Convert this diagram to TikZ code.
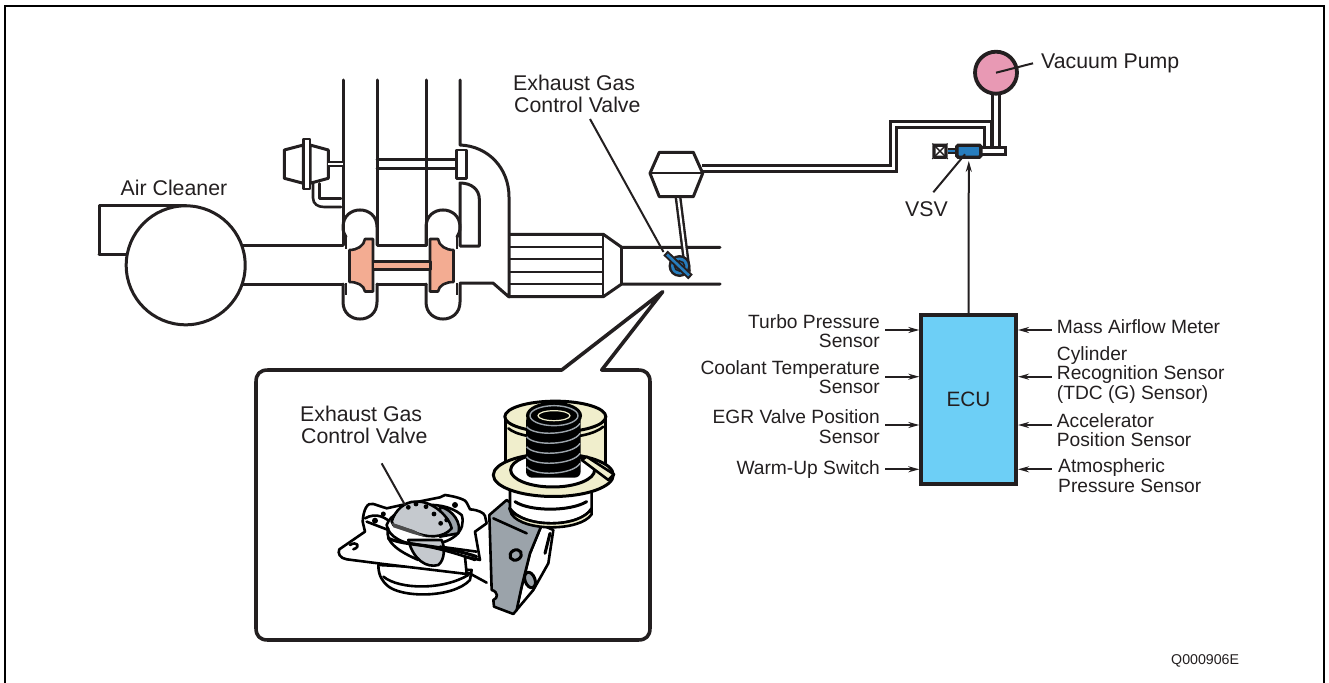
\documentclass[tikz,border=0pt]{standalone}
\usepackage{fontspec}
\setmainfont{Liberation Sans}
\usepackage{tikz}
\usetikzlibrary{arrows.meta, positioning, calc}
\definecolor{inkblack}{RGB}{35,31,32}
\definecolor{ecublue}{RGB}{109,207,246}
\definecolor{valveblue}{RGB}{39,125,190}
\definecolor{pumppink}{RGB}{232,153,180}
\definecolor{impsalmon}{RGB}{243,172,146}
\definecolor{capcream}{RGB}{240,238,204}
\definecolor{brkgrey}{RGB}{155,163,170}
\definecolor{discgrey}{RGB}{197,201,206}
\tikzset{
  duct/.style={draw=inkblack, line width=3pt, line cap=round, line join=round},
  thinduct/.style={draw=inkblack, line width=1.9pt},
  tube/.style={draw=inkblack, line width=2.9pt, double=white, double distance=3.4pt, line join=miter},
  arr/.style={-{Stealth[length=11pt, width=6pt]}, draw=inkblack, line width=2pt},
  leader/.style={draw=inkblack, line width=2pt},
  biglab/.style={font=\fontsize{21.3}{22}\selectfont, text=inkblack, inner sep=0pt, align=left},
  senlab/.style={font=\fontsize{19.2}{19.4}\selectfont, text=inkblack, inner sep=0pt},
  ecublock/.style={rectangle, draw=inkblack, fill=ecublue, line width=3.4pt,
    minimum width=95pt, minimum height=169pt, font=\fontsize{20.8}{22}\selectfont, text=inkblack},
  illu/.style={draw=black, line width=2.6pt, line join=round, line cap=round},
}
\begin{document}
\begin{tikzpicture}[x=1pt, y=-1pt]
  \useasboundingbox (0,0) rectangle (1329,682);
  % frame
  \draw[draw=black, line width=2pt] (5,683) -- (5,6) -- (1324,6) -- (1324,683);

  % intake side
  \draw[duct] (99,254) -- (99,205) -- (186,205);
  \draw[duct] (99,254) -- (128,254);
  \draw[duct, fill=white] (185.7,265.3) circle (59.5pt);
  \draw[duct] (243,245) -- (343,245);
  \draw[duct] (243,284) -- (343,284);
  \draw[duct] (343,80) -- (343,245);
  \draw[duct] (377,80) -- (377,245) -- (426,245) -- (426,80);
  \draw[duct] (377,284) -- (426,284);
  \draw[duct] (460,80) -- (460,145) .. controls (488,146) and (509,168) .. (509,197) -- (509,297) -- (493,283) -- (460,283);
  \draw[duct] (460,246) -- (460,183) .. controls (472,183) and (479.3,190) .. (479.3,199) -- (479.3,246) -- (460,246);

  % turbo
  \foreach \cx/\sd in {360/1,443/-1}{
    \draw[duct] ({\cx+\sd*17},245) -- ({\cx+\sd*17},227)
      .. controls ({\cx+\sd*17},204.3) and ({\cx-\sd*17},204.3) .. ({\cx-\sd*17},227)
      .. controls ({\cx-\sd*17},231) and ({\cx-\sd*16},234) .. ({\cx-\sd*14},237);
    \draw[duct] ({\cx-\sd*17},284) -- ({\cx-\sd*17},302)
      .. controls ({\cx-\sd*17},324.7) and ({\cx+\sd*17},324.7) .. ({\cx+\sd*17},302) -- ({\cx+\sd*17},284);
    \draw[thinduct] ({\cx-\sd*14},237) -- ({\cx-\sd*14},249);
    \draw[thinduct] ({\cx-\sd*14},283) -- ({\cx-\sd*14},295);
    \filldraw[duct, fill=impsalmon, line width=2.6pt] ({\cx-\sd*10.5},250)
      .. controls ({\cx-\sd*3},250) and ({\cx+\sd*4},246) .. ({\cx+\sd*5},239)
      -- ({\cx+\sd*13},239) -- ({\cx+\sd*13},291.5) -- ({\cx+\sd*5},291.5)
      .. controls ({\cx+\sd*4},285) and ({\cx-\sd*3},282) .. ({\cx-\sd*10.5},282) -- cycle;
  }
  \filldraw[duct, fill=impsalmon, line width=2.6pt] (373,261.5) rectangle (430.5,269.3);

  % small actuator
  \draw[duct, fill=white] (284.3,150) -- (303.3,145) -- (303.3,183.3) -- (284.3,178.3) -- cycle;
  \draw[duct, fill=white] (310,145) -- (328.3,150) -- (328.3,178.3) -- (310,183.3) -- cycle;
  \draw[duct, fill=white, line width=2.6pt] (303.5,139) rectangle (310,189);
  \draw[tube, line width=2.4pt, double distance=2pt] (328.3,164) -- (343,164);
  \draw[duct, line width=2.6pt] (313,183.5) -- (313,198) .. controls (313,204) and (318,207) .. (324,207) -- (341,207);
  \draw[duct, line width=2.6pt] (319.7,183.5) -- (319.7,198.5) -- (341,198.5);
  \draw[duct, line width=2.6pt] (377,159.3) -- (456.7,159.3);
  \draw[duct, line width=2.6pt] (377,168.3) -- (456.7,168.3);
  \draw[duct, fill=white, line width=2.6pt] (456.3,150) rectangle (466.7,178.3);

  % catalyst
  \draw[duct] (510,234.3) -- (603.3,234.3) -- (621.7,247.3) -- (720,247.3);
  \draw[duct] (510,296.7) -- (603.3,296.7) -- (621.7,284) -- (720,284);
  \draw[thinduct] (603.3,234.3) -- (603.3,296.7);
  \draw[duct] (621.7,247.3) -- (621.7,284);
  \foreach \ly in {247.3,259.3,271.7,284.3}
    \draw[thinduct] (510,\ly) -- (603.3,\ly);

  % exhaust gas control valve and its actuator
  \draw[tube, line width=2.4pt, double distance=2pt] (678,197) -- (687.5,272);
  \fill[inkblack] (679.5,266) circle (11pt);
  \fill[valveblue] (679.5,266) circle (8.5pt);
  \draw[draw=inkblack, line width=1.6pt] (679.5,266) circle (5pt);
  \draw[draw=inkblack, line width=6.5pt] (665.5,253) -- (690.5,277);
  \draw[draw=valveblue, line width=2.6pt] (667,254.5) -- (689,275.5);
  \draw[tube] (702,168.5) -- (893.3,168.5) -- (893.3,124.3) -- (988,124.3) -- (988,148);
  \draw[duct, fill=white] (659.3,152.3) -- (693.3,152.3) -- (702.7,173.3) -- (693.3,196.7) -- (659.3,196.7) -- (650,173.3) -- cycle;
  \draw[thinduct] (650,173.3) -- (702.7,173.3);

  % vacuum side
  \draw[tube] (996,90) -- (996,148);
  \node[circle, draw=inkblack, fill=pumppink, line width=3.8pt, minimum size=42pt, inner sep=0pt] (pump) at (996,72.7) {};
  \node[rectangle, draw=inkblack, fill=white, line width=3pt, minimum width=25pt, minimum height=7pt, inner sep=0pt] (vent) at (993,151) {};
  \node[rectangle, draw=inkblack, fill=valveblue, line width=3.4pt, rounded corners=1.5pt, minimum width=24pt, minimum height=12pt, inner sep=0pt] (vsv) at (968.8,151.2) {};
  \node[rectangle, draw=inkblack, fill=white, line width=3.4pt, rounded corners=1pt, minimum width=12pt, minimum height=12pt, inner sep=0pt] (xbox) at (940,151.2) {};
  \draw[draw=inkblack, line width=1.4pt] (xbox.south west) -- (xbox.north east) (xbox.north west) -- (xbox.south east);
  \draw[draw=inkblack, line width=5.5pt] (xbox.east) -- (vsv.west);
  \draw[draw=valveblue, line width=2.4pt] (xbox.east) -- (vsv.west);

  % labels top
  \node[biglab, anchor=base west] (cleanerlab) at (120.5,195) {Air Cleaner};
  \node[biglab, anchor=base west] (valvelab) at (513,91) {Exhaust Gas};
  \node[biglab, anchor=base west] (valvelabb) at (514,113) {Control Valve};
  \node[biglab, anchor=base west] (pumplab) at (1041,69) {Vacuum Pump};
  \node[biglab, anchor=base west] (vsvlab) at (905,216) {VSV};
  \coordinate (valvetip) at (663.5,252);
  \draw[leader] (590,119) -- (valvetip);
  \draw[leader] (pump.center) -- (1033,63.3);
  \draw[leader] (965,154.3) -- (933.3,192.3);

  % ecu
  \node[ecublock] (ecu) at (968.5,399.6) {ECU};
  \draw[arr, shorten >=2pt] (ecu.north) -- (vsv.south);
  \node[senlab, anchor=east, align=right] (turbosen) at (880,331) {Turbo Pressure\\Sensor};
  \node[senlab, anchor=east, align=right] (coolsen) at (880,377) {Coolant Temperature\\Sensor};
  \node[senlab, anchor=east, align=right] (egrsen) at (880,426.5) {EGR Valve Position\\Sensor};
  \node[senlab, anchor=east, align=right] (warmsw) at (880,470) {Warm-Up Switch};
  \node[senlab, anchor=west, align=left] (airflow) at (1056.7,327) {Mass Airflow Meter};
  \node[senlab, anchor=west, align=left] (cylsen) at (1056.7,375) {Cylinder\\Recognition Sensor\\(TDC (G) Sensor)};
  \node[senlab, anchor=west, align=left] (accsen) at (1056.7,430) {Accelerator\\Position Sensor};
  \node[senlab, anchor=west, align=left] (atmsen) at (1058,475.5) {Atmospheric\\Pressure Sensor};
  \foreach \nm/\ay in {turbosen/330,coolsen/376.7,egrsen/425,warmsw/469.3}
    \draw[arr] (885,\ay) -- (ecu.west |- 885,\ay);
  \foreach \nm/\ay in {airflow/330,cylsen/376.7,accsen/425,atmsen/469.3}
    \draw[arr] (1051.7,\ay) -- (1018,\ay);

  \node[font=\fontsize{14.2}{16}\selectfont, text=inkblack, anchor=base west, inner sep=0pt] (partno) at (1171,664) {Q000906E};

  % callout
  \draw[draw=inkblack, line width=3.6pt, line join=round, fill=white]
    (561.7,370) -- (662.7,291.7) -- (601.7,370) -- (638,370)
    .. controls (646,370) and (650,374) .. (650,382) -- (650,628)
    .. controls (650,636) and (646,640) .. (638,640) -- (268,640)
    .. controls (260,640) and (256,636) .. (256,628) -- (256,382)
    .. controls (256,374) and (260,370) .. (268,370) -- cycle;

  \node[biglab, anchor=base west] (insetlab) at (300,421) {Exhaust Gas};
  \node[biglab, anchor=base west] (insetlabb) at (301,443) {Control Valve};

  % inset: valve body
  \begin{scope}[shift={(330,390)}, x=0.3333pt, y=-0.3333pt]
    \draw[illu, fill=white] (145,525) .. controls (145,560) and (160,575) .. (170,585) .. controls (210,625) and (370,625) .. (420,570) -- (425,540) -- cycle;
    \draw[illu] (160,560) .. controls (210,600) and (340,600) .. (415,555);
    \draw[illu] (415,548) -- (470,578);
    \draw[illu, fill=white] (28,478) -- (105,425) -- (98,395) .. controls (100,360) and (112,335) .. (130,342) -- (170,355) -- (215,345) -- (330,322) -- (345,315)
      .. controls (380,320) and (410,330) .. (410,338) -- (420,358) .. controls (445,360) and (462,368) .. (465,378) -- (470,400) -- (435,425) -- (450,510) -- (405,500) -- (410,552) -- (160,522) -- (50,508) .. controls (30,505) and (22,490) .. (28,478) -- cycle;
    \draw[illu] (60,465) .. controls (80,452) and (95,470) .. (70,478);
    \draw[illu] (105,385) .. controls (140,365) and (170,385) .. (185,400);
    \draw[illu] (110,395) -- (175,420);
    \fill[black] (135,392) circle (3pt) (160,372) circle (2.5pt) (375,345) circle (3pt);
    \draw[illu, fill=white] (170,405) .. controls (190,345) and (330,320) .. (395,375) .. controls (410,420) and (370,465) .. (280,465) .. controls (220,465) and (175,440) .. (170,405) -- cycle;
    \draw[illu, fill=discgrey] (235,450) .. controls (250,510) and (290,535) .. (325,525) .. controls (345,510) and (345,470) .. (335,450) -- cycle;
    \draw[illu, fill=brkgrey] (330,350) .. controls (370,360) and (395,400) .. (385,430) -- (330,440) -- cycle;
    \draw[illu, fill=discgrey] (185,395) .. controls (195,360) and (225,335) .. (255,335) .. controls (310,330) and (360,385) .. (365,415) .. controls (340,445) and (290,445) .. (250,425) -- (190,405) -- cycle;
    \fill[black!70] (185,398) -- (250,420) -- (290,442) -- (250,432) -- (190,412) -- cycle;
    \foreach \dx/\dy in {235/352,258/342,288/350,312/372,332/400,350/390}
      \fill[black] (\dx,\dy) circle (2.4pt);
    \draw[illu, line width=3.2pt] (175,445) .. controls (230,470) and (320,460) .. (440,500);
    \draw[illu] (240,460) .. controls (300,470) and (350,480) .. (435,510);
    \draw[illu] (175,415) .. controls (160,460) and (220,490) .. (265,510);
    \draw[illu] (330,470) -- (440,485);
    \draw[leader] (155,220) -- (225,345);
  \end{scope}

  % inset: bracket
  \begin{scope}[shift={(450,490)}, x=0.3333pt, y=-0.3333pt]
    \draw[illu, fill=white] (275,105) -- (310,120) -- (295,220) -- (250,300) -- (198,362) -- (215,290) -- (240,190) -- cycle;
    \draw[illu, line width=3pt] (300,130) -- (285,190);
    \draw[illu, fill=brkgrey] (170,30) -- (118,75) -- (125,300) .. controls (145,305) and (145,325) .. (130,330) -- (132,350) -- (190,372) -- (200,360) -- (215,290) -- (240,190) -- (275,105) -- cycle;
    \draw[illu] (130,85) -- (230,130);
    \draw[illu, line width=3pt, fill=brkgrey] (197,195) ellipse [x radius=6pt, y radius=5pt, rotate=30];
    \draw[illu, line width=3pt, fill=brkgrey] (240,270) ellipse [x radius=5pt, y radius=8pt, rotate=20];
  \end{scope}

  % inset: spring and cap
  \begin{scope}[shift={(480,395)}, x=0.3333pt, y=-0.3333pt]
    \draw[illu, fill=white] (90,285) -- (90,340) .. controls (130,400) and (300,400) .. (335,340) -- (335,285) -- cycle;
    \draw[illu, fill=capcream] (88,340) .. controls (130,400) and (300,400) .. (335,340) -- (335,358) .. controls (300,410) and (130,410) .. (95,358) -- cycle;
    \draw[illu, line width=3pt] (105,320) .. controls (150,350) and (270,350) .. (320,320);
    \draw[illu, line width=3pt, fill=capcream] (75,70) -- (75,215) -- (378,215) -- (378,70) -- cycle;
    \draw[illu, line width=3pt, fill=capcream] (226,65) ellipse [x radius=50.5pt, y radius=15.5pt];
    \draw[illu, line width=3pt, fill=capcream] (220,240) ellipse [x radius=60pt, y radius=21.5pt];
    \draw[illu, line width=3pt, fill=white] (218,225) ellipse [x radius=42pt, y radius=17pt];
    \draw[illu] (85,100) .. controls (130,140) and (320,140) .. (370,95);
    \fill[black, rounded corners=6pt] (138,60) rectangle (302,248);
    \foreach \cy in {95,125,155,185,215}
      \draw[draw=brkgrey, line width=1.4pt] (140,\cy) .. controls (160,{\cy+30}) and (280,{\cy+25}) .. (300,{\cy-10});
    \draw[draw=black, fill=black, line width=2pt] (222,62) ellipse [x radius=27pt, y radius=13pt];
    \draw[draw=brkgrey, line width=1.4pt] (222,62) ellipse [x radius=24pt, y radius=10pt];
    \draw[draw=capcream, line width=1.2pt] (222,62) ellipse [x radius=16pt, y radius=5pt];
    \draw[illu, fill=capcream] (305,195) -- (320,185) -- (402,238) -- (385,255) -- cycle;
  \end{scope}
\end{tikzpicture}
\end{document}
